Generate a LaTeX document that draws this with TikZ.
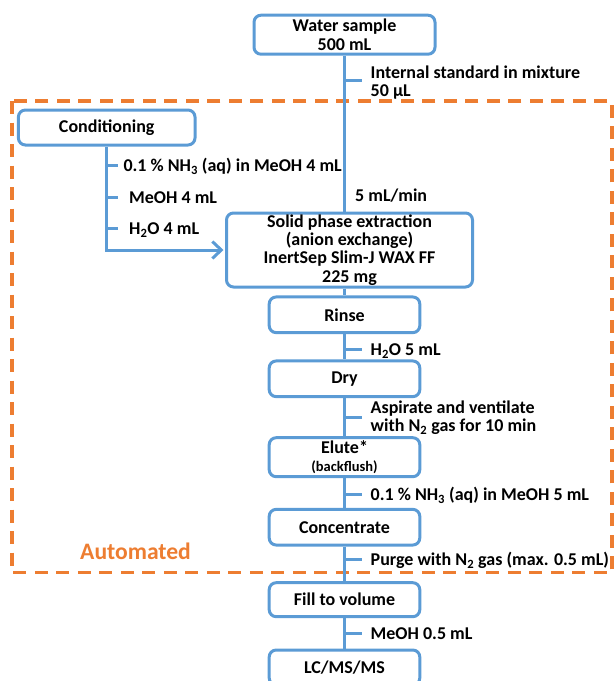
\documentclass[tikz,border=0pt]{standalone}
\usepackage{fontspec}
\setmainfont{Carlito}
\usetikzlibrary{arrows.meta}
\definecolor{bblue}{HTML}{5B9BD5}
\definecolor{aorange}{HTML}{ED7D31}
\begin{document}
\begin{tikzpicture}[x=1pt,y=-1pt,
  every node/.style={font=\fontsize{18}{18.3}\selectfont\bfseries, inner sep=0pt},
  stepbox/.style 2 args={draw=bblue, line width=3pt, rounded corners=7pt, fill=white,
    align=center, minimum width=#1, minimum height=#2},
  conn/.style={draw=bblue, line width=3pt},
  lbl/.style={anchor=base west, align=left},
  lbltwo/.style={anchor=west, align=left},
  autobox/.style={draw=aorange, line width=3.5pt, dash pattern=on 13pt off 8.5pt}
]
\useasboundingbox (0,0) rectangle (614,681);

% automated region
\draw[autobox] (12,101) rectangle (612,572.7);
\node[anchor=base west, text=aorange, font=\fontsize{23.6}{26}\selectfont\bfseries] (auto) at (80,559) {Automated};

% boxes
\node[stepbox={181pt}{39pt}] (water) at (344.5,34.7) {Water sample\\500 mL};
\node[stepbox={176.6pt}{35pt}] (cond) at (106.7,127.5) {Conditioning};
\node[stepbox={246pt}{74pt}] (spe) at (349.5,250) {Solid phase extraction\\(anion exchange)\\InertSep Slim-J WAX FF\\225 mg};
\node[stepbox={150.6pt}{35.7pt}] (rinse) at (344.5,314.8) {Rinse};
\node[stepbox={150.6pt}{35.7pt}] (dry) at (344.5,378.8) {Dry};
\node[stepbox={150.6pt}{39pt}] (elute) at (344.5,457.2) {Elute*\\[-1pt]{\fontsize{14.5}{15}\selectfont(backflush)}};
\node[stepbox={150.6pt}{35.7pt}] (conc) at (344.5,527.2) {Concentrate};
\node[stepbox={150.6pt}{34pt}] (fill) at (344.5,599.7) {Fill to volume};
\node[stepbox={150.6pt}{35pt}] (lcms) at (344.5,667.5) {LC/MS/MS};

% main line
\draw[conn] (water.south) -- (water.south |- spe.north);
\draw[conn] (spe.south -| rinse.north) -- (rinse.north);
\draw[conn] (rinse.south) -- (dry.north);
\draw[conn] (dry.south) -- (elute.north);
\draw[conn] (elute.south) -- (conc.north);
\draw[conn] (conc.south) -- (fill.north);
\draw[conn] (fill.south) -- (lcms.north);

% conditioning line
\draw[conn, -{Straight Barb[length=9pt,width=17pt]}] (cond.south) |- ([xshift=-1.5pt]spe.west);

% ticks on main line
\coordinate (t1) at (344.5,80);
\coordinate (t2) at (344.5,349);
\coordinate (t3) at (344.5,417);
\coordinate (t4) at (344.5,494.3);
\coordinate (t5) at (344.5,559.3);
\coordinate (t6) at (344.5,633.3);
\foreach \t in {t1,t2,t3,t4,t5,t6} \draw[conn] (\t) -- ++(17,0);

% ticks on conditioning line
\coordinate (c1) at (106.7,165.5);
\coordinate (c2) at (106.7,197);
\coordinate (c3) at (106.7,228.3);
\foreach \t in {c1,c2,c3} \draw[conn] (\t) -- ++(11.5,0);

% labels
\node[lbltwo] (l1) at (370.5,82.5) {Internal standard in mixture\\50 µL};
\node[lbl] (lc1) at (123.3,171.7) {0.1 \% NH\textsubscript{3} (aq) in MeOH 4 mL};
\node[lbl] (lc2) at (129,203.3) {MeOH 4 mL};
\node[lbl] (lc3) at (129,234.5) {H\textsubscript{2}O 4 mL};
\node[lbl] (rate) at (355,201) {5 mL/min};
\node[lbl] (l2) at (370.5,355.5) {H\textsubscript{2}O 5 mL};
\node[lbltwo] (l3) at (370.5,418) {Aspirate and ventilate\\with N\textsubscript{2} gas for 10 min};
\node[lbl] (l4) at (370.5,500.8) {0.1 \% NH\textsubscript{3} (aq) in MeOH 5 mL};
\node[lbl] (l5) at (370.5,565.8) {Purge with N\textsubscript{2} gas (max. 0.5 mL)};
\node[lbl] (l6) at (370.5,639.8) {MeOH 0.5 mL};
\end{tikzpicture}
\end{document}
